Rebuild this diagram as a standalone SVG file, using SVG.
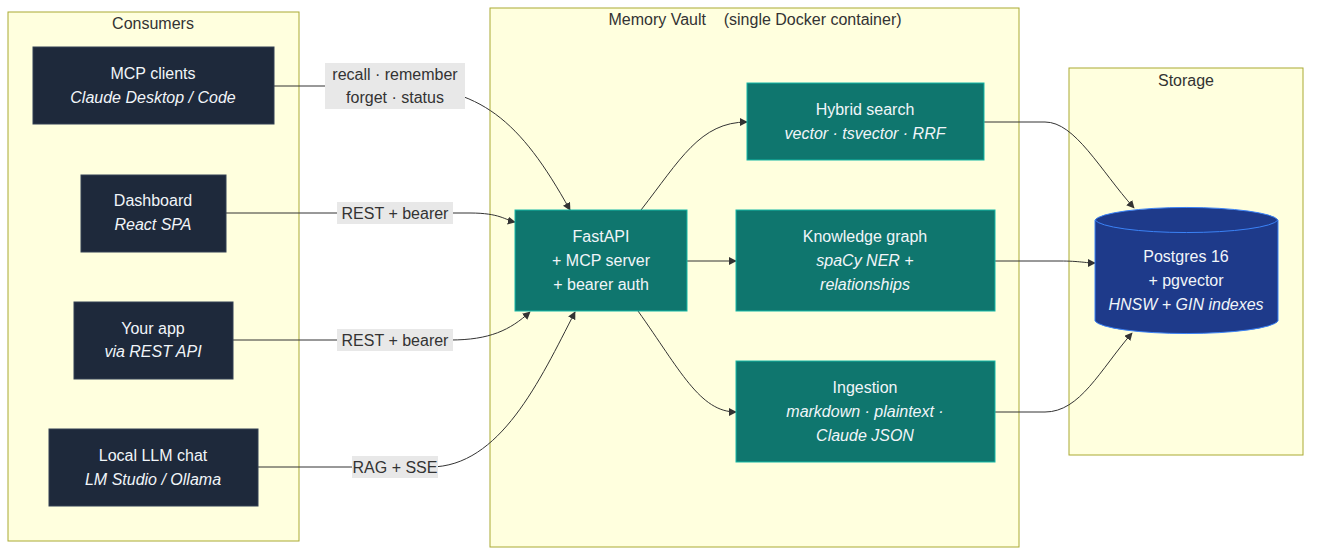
<svg xmlns="http://www.w3.org/2000/svg" width="1319" height="560" viewBox="0 0 1319 560">
<style>
text{font-family:"Liberation Sans",Arial,sans-serif;font-size:16px;text-anchor:middle}
.cl{fill:#ffffde;stroke:#aaaa33;stroke-width:1}
.ct{fill:#333}
.dk{fill:#1e293b;stroke:#334155}
.tl{fill:#0f766e;stroke:#14b8a6}
.nt{fill:#f1f5f9}
.i{font-style:italic}
.e{fill:none;stroke:#333;stroke-width:1;marker-end:url(#a)}
.lb{fill:#e8e8e8}
.lt{fill:#333}
</style>
<defs><marker id="a" viewBox="0 0 10 10" refX="9" refY="5" markerWidth="8" markerHeight="8" orient="auto"><path d="M0,0L10,5L0,10z" fill="#333"/></marker></defs>
<rect width="1319" height="560" fill="#fff"/>
<g id="consumers"><rect class="cl" x="8" y="12" width="291" height="529"/><text class="ct" x="153" y="29">Consumers</text></g>
<g id="vault"><rect class="cl" x="490" y="8" width="529" height="539"/><text class="ct" x="755" y="25" xml:space="preserve">Memory Vault    (single Docker container)</text></g>
<g id="storage"><rect class="cl" x="1069" y="68" width="234" height="387"/><text class="ct" x="1186" y="86">Storage</text></g>
<g id="edges">
<path class="e" d="M274,86H395C480,86 520,120 570,210"/>
<path class="e" d="M226,213H470C500,213 505,220 515,222"/>
<path class="e" d="M233,340H450C490,340 510,330 530,312"/>
<path class="e" d="M258,467H430C500,467 540,380 575,312"/>
<path class="e" d="M641,210C680,160 700,122 747,122"/>
<path class="e" d="M687,261H736"/>
<path class="e" d="M638,311C680,370 700,412 736,412"/>
<path class="e" d="M984,122H1045C1075,122 1100,170 1134,208"/>
<path class="e" d="M995,261H1060C1080,261 1085,263 1095,263"/>
<path class="e" d="M995,412H1045C1080,412 1100,370 1132,333"/>
<rect class="lb" x="325" y="63" width="140" height="46"/><text class="lt" x="395" y="80">recall · remember</text><text class="lt" x="395" y="103">forget · status</text>
<rect class="lb" x="337" y="202" width="116" height="22"/><text class="lt" x="395" y="219">REST + bearer</text>
<rect class="lb" x="337" y="329" width="116" height="22"/><text class="lt" x="395" y="346">REST + bearer</text>
<rect class="lb" x="352" y="456" width="86" height="22"/><text class="lt" x="395" y="473">RAG + SSE</text>
</g>
<g id="mcp"><rect class="dk" x="33" y="47" width="241" height="77"/><text class="nt" x="153" y="79">MCP clients</text><text class="nt i" x="153" y="103">Claude Desktop / Code</text></g>
<g id="dash"><rect class="dk" x="81" y="175" width="145" height="77"/><text class="nt" x="153" y="206">Dashboard</text><text class="nt i" x="153" y="230">React SPA</text></g>
<g id="app"><rect class="dk" x="74" y="302" width="159" height="77"/><text class="nt" x="153" y="334">Your app</text><text class="nt i" x="153" y="357">via REST API</text></g>
<g id="llm"><rect class="dk" x="49" y="429" width="209" height="77"/><text class="nt" x="153" y="461">Local LLM chat</text><text class="nt i" x="153" y="485">LM Studio / Ollama</text></g>
<g id="fastapi"><rect class="tl" x="515" y="210" width="172" height="101"/><text class="nt" x="601" y="242">FastAPI</text><text class="nt" x="601" y="266">+ MCP server</text><text class="nt" x="601" y="290">+ bearer auth</text></g>
<g id="hybrid"><rect class="tl" x="747" y="83" width="237" height="77"/><text class="nt" x="865" y="115">Hybrid search</text><text class="nt i" x="865" y="139">vector · tsvector · RRF</text></g>
<g id="kg"><rect class="tl" x="736" y="210" width="259" height="101"/><text class="nt" x="865" y="242">Knowledge graph</text><text class="nt i" x="865" y="266">spaCy NER +</text><text class="nt i" x="865" y="290">relationships</text></g>
<g id="ingest"><rect class="tl" x="736" y="361" width="259" height="101"/><text class="nt" x="865" y="393">Ingestion</text><text class="nt i" x="865" y="417">markdown · plaintext ·</text><text class="nt i" x="865" y="441">Claude JSON</text></g>
<g id="postgres"><path d="M1095,220A92,14 0 0 1 1278,220V321A92,14 0 0 1 1095,321Z" fill="#1e3a8a" stroke="#3b82f6"/><path d="M1095,220A92,14 0 0 0 1278,220" fill="none" stroke="#3b82f6"/><text class="nt" x="1186" y="262">Postgres 16</text><text class="nt" x="1186" y="286">+ pgvector</text><text class="nt i" x="1186" y="310">HNSW + GIN indexes</text></g>
</svg>
